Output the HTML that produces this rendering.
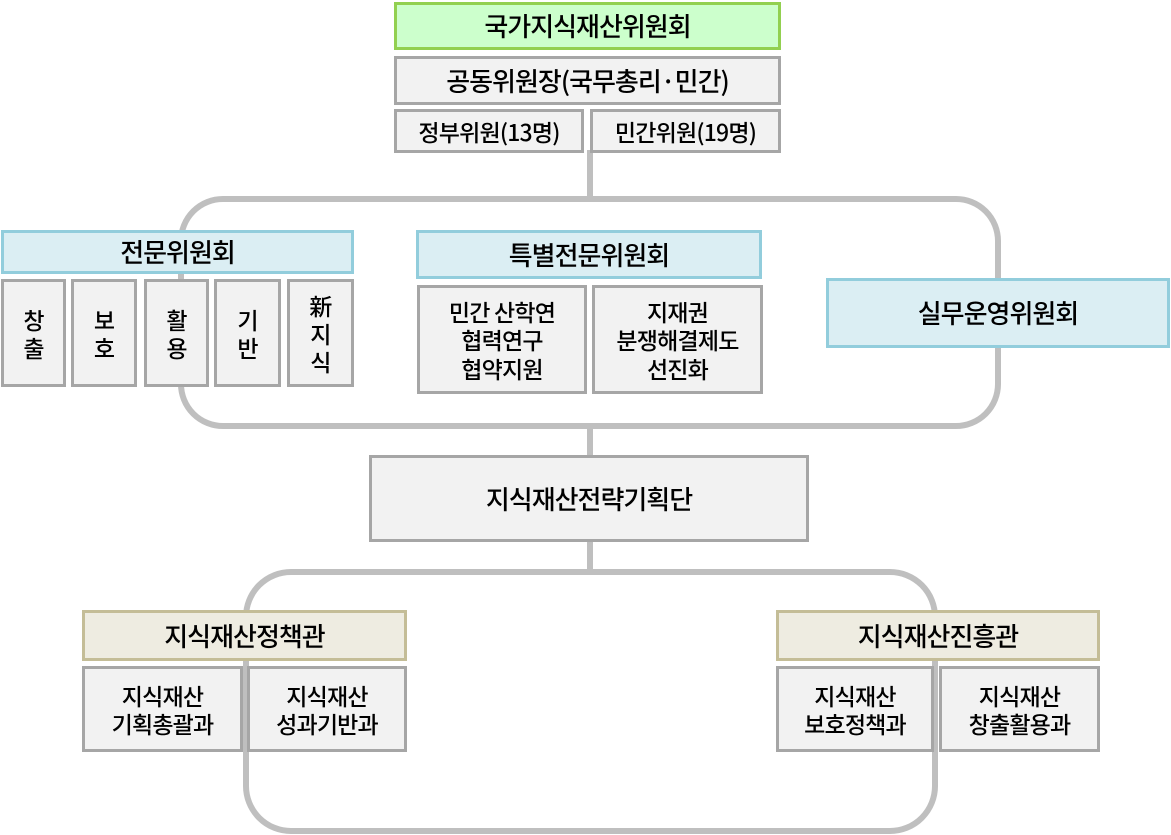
<!DOCTYPE html>
<html><head><meta charset="utf-8"><style>
body{margin:0;width:1171px;height:835px;background:#fff;position:relative;overflow:hidden;font-family:"Noto Sans CJK KR",sans-serif;color:#000}
.b{position:absolute;box-sizing:border-box;border:3px solid #a6a6a6;background:#f2f2f2;display:flex;align-items:center;justify-content:center;text-align:center;font-size:26px;line-height:1.15;letter-spacing:-1px;font-weight:500}
.g{border-color:#92d050;background:#ccffcc}
.c{border-color:#92cddc;background:#dbeef3}
.t{border-color:#c4bd97;background:#eeece1}
.s{font-size:23px;letter-spacing:-0.8px;line-height:1.22}
</style></head><body>
<svg width="1171" height="835" style="position:absolute;left:0;top:0">
<g fill="none" stroke="#bfbfbf" stroke-width="6">
<line x1="590" y1="150" x2="590" y2="200"/>
<rect x="181" y="199" width="817" height="227" rx="42"/>
<line x1="590" y1="426" x2="590" y2="458"/>
<line x1="590" y1="540" x2="590" y2="573"/>
<rect x="246" y="572" width="689" height="259" rx="45"/>
</g></svg>
<div class="b g" style="left:394px;top:2px;width:387px;height:48px">국가지식재산위원회</div>
<div class="b" style="left:394px;top:56px;width:387px;height:49px">공동위원장(국무총리·민간)</div>
<div class="b s" style="left:394px;top:109px;width:190px;height:44px">정부위원(13명)</div>
<div class="b s" style="left:590px;top:109px;width:191px;height:44px">민간위원(19명)</div>
<div class="b c" style="left:1px;top:230px;width:353px;height:44px">전문위원회</div>
<div class="b s" style="left:1px;top:279px;width:65px;height:108px">창<br>출</div>
<div class="b s" style="left:71px;top:279px;width:66px;height:108px">보<br>호</div>
<div class="b s" style="left:144px;top:279px;width:65px;height:108px">활<br>용</div>
<div class="b s" style="left:214px;top:279px;width:67px;height:108px">기<br>반</div>
<div class="b s" style="left:287px;top:279px;width:67px;height:108px">新<br>지<br>식</div>
<div class="b c" style="left:416px;top:230px;width:346px;height:49px">특별전문위원회</div>
<div class="b s" style="left:417px;top:285px;width:170px;height:109px">민간 산학연<br>협력연구<br>협약지원</div>
<div class="b s" style="left:592px;top:285px;width:171px;height:109px">지재권<br>분쟁해결제도<br>선진화</div>
<div class="b c" style="left:826px;top:278px;width:344px;height:70px">실무운영위원회</div>
<div class="b" style="left:369px;top:455px;width:440px;height:87px">지식재산전략기획단</div>
<div class="b t" style="left:82px;top:610px;width:325px;height:51px">지식재산정책관</div>
<div class="b s" style="left:82px;top:666px;width:161px;height:86px">지식재산<br>기획총괄과</div>
<div class="b s" style="left:247px;top:666px;width:160px;height:86px">지식재산<br>성과기반과</div>
<div class="b t" style="left:776px;top:610px;width:324px;height:51px">지식재산진흥관</div>
<div class="b s" style="left:776px;top:666px;width:158px;height:86px">지식재산<br>보호정책과</div>
<div class="b s" style="left:939px;top:666px;width:161px;height:86px">지식재산<br>창출활용과</div>
</body></html>
